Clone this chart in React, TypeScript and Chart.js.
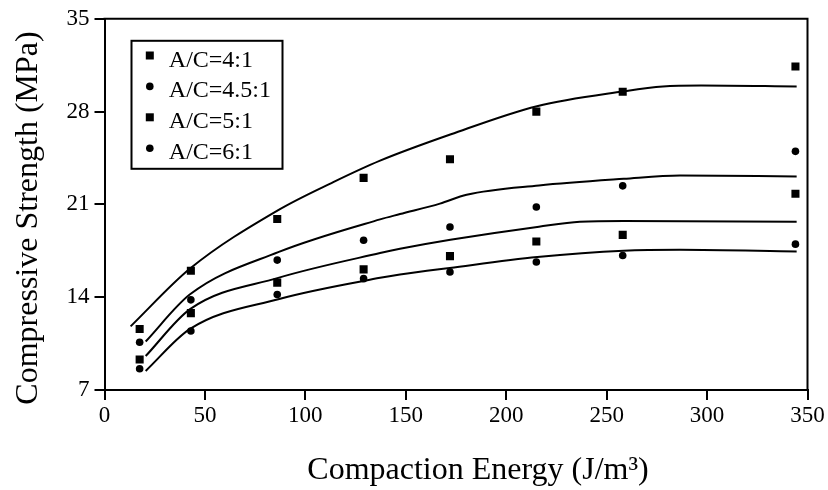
import React, { useEffect, useRef } from "react";
import { Chart, registerables } from "chart.js";

Chart.register(...registerables);

// ---- data ----
const ENERGY = [17.5, 43, 86, 129, 172, 215, 258, 344];
const SERIES_LABELS = ["A/C=4:1", "A/C=4.5:1", "A/C=5:1", "A/C=6:1"];
const SERIES_STYLES = ["rect", "circle", "rect", "circle"];
const S_4_1 = [11.6, 16.0, 19.9, 23.0, 24.4, 28.0, 29.5, 31.4];
const S_45_1 = [10.6, 13.8, 16.8, 18.3, 19.3, 20.8, 22.4, 25.0];
const S_5_1 = [9.3, 12.8, 15.1, 16.1, 17.1, 18.2, 18.7, 21.8];
const S_6_1 = [8.6, 11.45, 14.2, 15.4, 15.9, 16.65, 17.15, 18.0];

// fitted curves (x, y)
const FIT_4_1_X = [13, 42.6, 86.5, 113.9, 137.2, 172.5, 215.3, 258.5, 278, 297, 344.6];
const FIT_4_1_Y = [11.8, 16.16, 20.57, 22.68, 24.3, 26.29, 28.41, 29.53, 29.9, 29.97, 29.9];
const FIT_45_1_X = [20.5, 42.6, 86.5, 137.2, 147.1, 167, 180.3, 216.3, 258.5, 286.5, 344.6];
const FIT_45_1_Y = [10.66, 14.22, 17.4, 19.87, 20.27, 21.06, 21.73, 22.43, 22.93, 23.18, 23.1];
const FIT_5_1_X = [20.5, 42.6, 86.5, 137.2, 147.1, 172.2, 216.3, 236.7, 258.5, 344.6];
const FIT_5_1_Y = [9.56, 13.1, 15.46, 17.33, 17.65, 18.33, 19.32, 19.69, 19.75, 19.69];
const FIT_6_1_X = [20.5, 42.6, 86.5, 137.2, 147.1, 171.9, 215.5, 258.5, 286.5, 344.6];
const FIT_6_1_Y = [8.44, 11.61, 13.85, 15.46, 15.71, 16.21, 17.03, 17.51, 17.58, 17.45];

const X_TICKS = [0, 50, 100, 150, 200, 250, 300, 350];
const Y_TICKS = [7, 14, 21, 28, 35];
const X_TITLE = "Compaction Energy (J/m\u00B3)";
const Y_TITLE = "Compressive Strength (MPa)";

const FONT = '"Liberation Serif", "Times New Roman", serif';

const zip = (xs: number[], ys: number[]) => xs.map((x, i) => ({ x, y: ys[i] }));

const decorPlugin = {
  id: "decor",
  afterDraw(chart: any) {
    const { ctx, chartArea: a } = chart;
    ctx.save();
    ctx.strokeStyle = "#000";
    ctx.lineWidth = 2;
    ctx.beginPath();
    ctx.moveTo(a.left - 1, a.top);
    ctx.lineTo(a.right, a.top);
    ctx.lineTo(a.right, a.bottom);
    ctx.stroke();

    // legend
    const lx = a.left + 27;
    const ly = a.top + 22;
    ctx.lineWidth = 2;
    ctx.strokeRect(lx, ly, 151, 128);
    ctx.fillStyle = "#000";
    ctx.font = `24px ${FONT}`;
    ctx.textAlign = "left";
    ctx.textBaseline = "alphabetic";
    SERIES_LABELS.forEach((label, i) => {
      const my = ly + 14.7 + i * 30.9;
      const mx = lx + 18.3;
      if (SERIES_STYLES[i] === "rect") {
        ctx.fillRect(mx - 4, my - 4, 8, 8);
      } else {
        ctx.beginPath();
        ctx.arc(mx, my, 3.8, 0, Math.PI * 2);
        ctx.fill();
      }
      ctx.fillText(label, lx + 37.3, my + 11);
    });

    // axis titles
    ctx.font = `32px ${FONT}`;
    ctx.textAlign = "center";
    ctx.fillText(X_TITLE, 478, 479.3);
    ctx.translate(36.7, 218);
    ctx.rotate(-Math.PI / 2);
    ctx.fillText(Y_TITLE, 0, 0);
    ctx.restore();
  },
};

export default function App() {
  const ref = useRef<HTMLCanvasElement>(null);
  useEffect(() => {
    if (!ref.current) return;
    const pointSeries = [S_4_1, S_45_1, S_5_1, S_6_1];
    const fits = [
      zip(FIT_4_1_X, FIT_4_1_Y),
      zip(FIT_45_1_X, FIT_45_1_Y),
      zip(FIT_5_1_X, FIT_5_1_Y),
      zip(FIT_6_1_X, FIT_6_1_Y),
    ];
    const datasets: any[] = [];
    fits.forEach((f) => {
      datasets.push({
        type: "line",
        label: "",
        data: f,
        borderColor: "#000",
        borderWidth: 2,
        pointRadius: 0,
        fill: false,
        cubicInterpolationMode: "monotone",
      });
    });
    pointSeries.forEach((s, i) => {
      datasets.push({
        type: "scatter",
        label: SERIES_LABELS[i],
        data: zip(ENERGY, s),
        pointStyle: SERIES_STYLES[i],
        pointRadius: SERIES_STYLES[i] === "rect" ? 5.7 : 3.8,
        pointBorderWidth: 0,
        backgroundColor: "#000",
        borderColor: "#000",
        showLine: false,
      });
    });

    const chart = new Chart(ref.current, {
      type: "scatter",
      data: { datasets },
      plugins: [decorPlugin],
      options: {
        animation: false,
        responsive: false,
        devicePixelRatio: 1,
        layout: { padding: { top: 15, right: 20.5, left: 0, bottom: 0 } },
        plugins: { legend: { display: false }, tooltip: { enabled: false } },
        scales: {
          x: {
            type: "linear",
            min: 0,
            max: 350,
            afterBuildTicks: (s: any) => {
              s.ticks = X_TICKS.map((v) => ({ value: v }));
            },
            afterFit: (s: any) => {
              s.height = 100;
            },
            border: { display: true, color: "#000", width: 2 },
            grid: {
              display: true,
              drawOnChartArea: false,
              drawTicks: true,
              tickLength: 10,
              color: "#000",
              lineWidth: 2,
            },
            ticks: { color: "#000", padding: 2, font: { family: FONT, size: 23 }, maxRotation: 0 },
          },
          y: {
            type: "linear",
            min: 7,
            max: 35,
            afterBuildTicks: (s: any) => {
              s.ticks = Y_TICKS.map((v) => ({ value: v }));
            },
            afterFit: (s: any) => {
              s.width = 104.5;
            },
            border: { display: true, color: "#000", width: 2 },
            grid: {
              display: true,
              drawOnChartArea: false,
              drawTicks: true,
              tickLength: 10,
              color: "#000",
              lineWidth: 2,
            },
            ticks: { color: "#000", padding: 5, font: { family: FONT, size: 23 } },
          },
        },
      } as any,
    });
    return () => chart.destroy();
  }, []);

  return (
    <div style={{ position: "fixed", left: 0, top: 0, width: 828, height: 490, background: "#fff" }}>
      <canvas ref={ref} width={828} height={490} style={{ width: 828, height: 490 }} />
    </div>
  );
}
